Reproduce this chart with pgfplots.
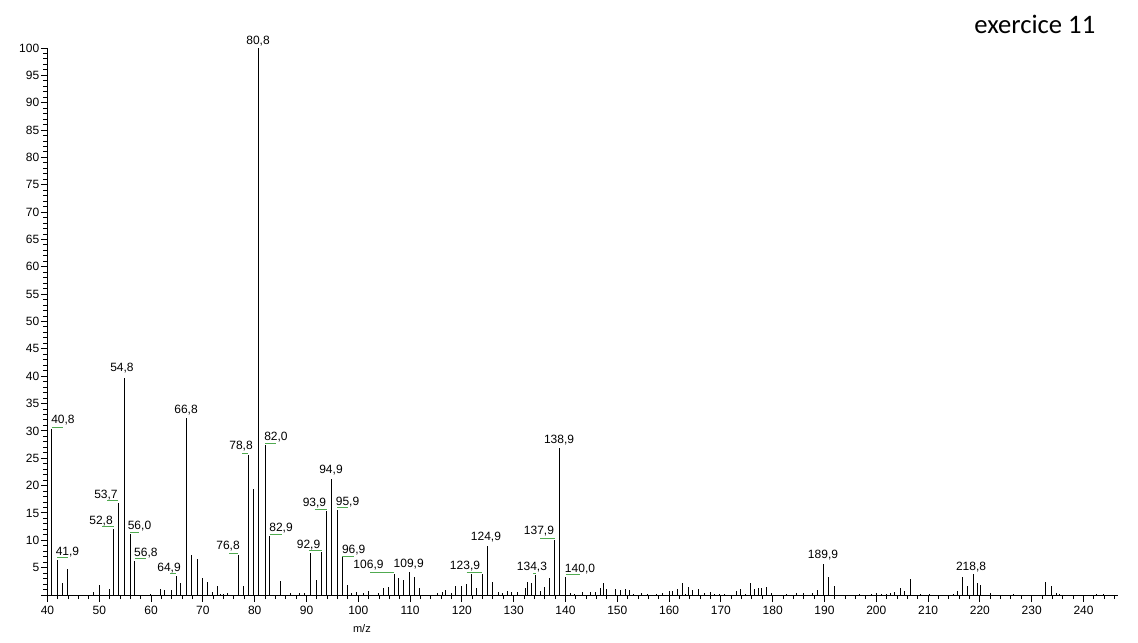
\documentclass[border=0pt]{standalone}
\usepackage{fontspec}
\setmainfont{Liberation Sans}
\newfontfamily\calibri{Carlito}
\usepackage{pgfplots}
\pgfplotsset{compat=1.18}
\definecolor{peakgreen}{RGB}{80,170,80}

\begin{document}
\begin{tikzpicture}
\begin{axis}[
  x=3.885pt, y=4.1025pt,
  xmin=40, xmax=246.6, ymin=0, ymax=100,
  axis lines*=left,
  axis line style={line width=0.75pt},
  tick align=outside,
  major tick length=5pt, minor tick length=3pt,
  tick style={black, line width=0.75pt},
  xtick={40,50,...,250}, minor x tick num=4,
  ytick={0,5,...,100}, minor y tick num=4,
  yticklabels={{},5,10,15,20,25,30,35,40,45,50,55,60,65,70,75,80,85,90,95,100},
  tick label style={font=\fontsize{9}{10}\selectfont},
  yticklabel style={inner sep=1pt},
  /pgf/number format/assume math mode=true,
  clip=false,
]
\addplot[ycomb, black, line width=0.75pt, mark=none] coordinates {
 (40.8,30.4) (41.9,6.4) (42.8,2.2) (43.9,4.7) (48.8,0.5) (50.0,1.8)
 (51.9,1.1) (52.8,12.0) (53.7,16.8) (54.8,39.6) (56.0,11.1) (56.8,6.3)
 (59.8,0.2) (61.8,1.1) (62.6,0.9) (64.0,0.9) (64.9,3.5) (65.6,2.25)
 (66.8,32.3) (67.8,7.3) (68.9,6.6) (69.9,3.1) (70.9,2.4) (71.9,0.55)
 (72.9,1.6) (73.4,0.2) (73.9,0.2) (74.8,0.4) (76.8,7.4) (77.8,1.6)
 (78.8,25.6) (79.8,19.3) (80.8,100) (82.0,27.4) (82.9,10.8) (85.0,2.55)
 (86.9,0.3) (88.6,0.3) (89.6,0.3) (90.8,7.7) (91.9,2.7) (92.9,7.8)
 (93.9,15.4) (94.9,21.3) (95.9,15.6) (96.9,6.9) (97.9,1.8) (98.7,0.4)
 (99.7,0.5) (101.0,0.3) (101.9,0.7) (103.9,0.3) (104.8,1.3) (105.8,1.5)
 (106.9,3.9) (107.8,3.2) (108.7,2.7) (109.9,4.2) (110.8,3.3) (111.9,1.3)
 (115.3,0.3) (116.2,0.5) (116.8,1.0) (118.0,0.4) (118.8,1.7) (119.9,1.7)
 (120.9,2.0) (121.9,3.9) (122.9,1.3) (123.9,3.9) (124.9,8.9) (125.9,2.4)
 (127.0,0.55) (127.9,0.4) (128.8,0.7) (129.6,0.55) (130.7,0.55) (132.2,1.3)
 (132.7,2.4) (133.4,2.25) (134.3,3.6) (135.1,0.7) (136.0,1.5) (136.9,3.1)
 (137.9,10.0) (138.9,26.8) (140.0,3.3) (141.0,0.4) (141.8,0.2) (143.2,0.55)
 (144.9,0.55) (145.8,0.55) (146.7,1.3) (147.3,2.25) (148.0,1.1) (149.7,1.1)
 (150.7,0.9) (151.6,1.1) (152.4,0.9) (153.1,0.2) (154.7,0.4) (155.8,0.2)
 (157.6,0.2) (158.7,0.4) (160.0,0.7) (160.6,0.7) (161.6,1.1) (162.5,2.25)
 (163.1,0.2) (163.7,1.5) (164.5,0.9) (165.6,1.1) (166.8,0.4) (168.0,0.55)
 (168.7,0.2) (169.7,0.2) (170.7,0.2) (173.1,0.7) (173.8,1.1) (174.7,0.2)
 (175.7,2.25) (176.5,1.1) (177.2,1.3) (177.8,1.3) (178.8,1.5) (179.7,0.4)
 (182.7,0.2) (184.6,0.4) (185.9,0.4) (187.7,0.4) (188.6,0.9) (189.9,5.65)
 (190.8,3.3) (192.0,1.65) (196.8,0.2) (199.0,0.2) (200.0,0.4) (201.0,0.2)
 (201.9,0.2) (202.7,0.4) (203.5,0.55) (204.7,1.3) (205.4,0.7) (206.6,2.9)
 (208.5,0.2) (210.3,0.2) (214.9,0.2) (215.7,0.7) (216.7,3.3) (217.7,1.65)
 (218.8,3.8) (219.45,2.2) (220.15,1.8) (222.1,0.4) (226.5,0.2) (232.6,2.4)
 (233.8,1.65) (234.7,0.4) (235.3,0.2) (242.5,0.2) (243.8,0.2)
};

% peak labels
\begin{scope}[every node/.style={font=\fontsize{9}{10}\selectfont, inner sep=0pt}]
\node at (axis cs:80.64,101.3) {80,8};
\node at (axis cs:54.38,41.4) {54,8};
\node at (axis cs:42.99,31.9) {40,8};
\node at (axis cs:66.74,33.76) {66,8};
\node at (axis cs:77.36,27.19) {78,8};
\node at (axis cs:84.11,28.83) {82,0};
\node at (axis cs:51.29,18.25) {53,7};
\node at (axis cs:50.33,13.5) {52,8};
\node at (axis cs:57.76,12.59) {56,0};
\node at (axis cs:59.0,7.66) {56,8};
\node at (axis cs:43.86,7.85) {41,9};
\node at (axis cs:63.46,4.93) {64,9};
\node at (axis cs:74.85,8.94) {76,8};
\node at (axis cs:85.08,12.23) {82,9};
\node at (axis cs:94.73,22.8) {94,9};
\node at (axis cs:91.54,16.79) {93,9};
\node at (axis cs:97.92,16.97) {95,9};
\node at (axis cs:90.39,9.12) {92,9};
\node at (axis cs:99.11,8.21) {96,9};
\node at (axis cs:101.97,5.47) {106,9};
\node at (axis cs:109.73,5.66) {109,9};
\node at (axis cs:120.6,5.29) {123,9};
\node at (axis cs:124.65,10.58) {124,9};
\node at (axis cs:133.53,5.11) {134,3};
\node at (axis cs:134.88,11.68) {137,9};
\node at (axis cs:138.75,28.28) {138,9};
\node at (axis cs:142.8,4.74) {140,0};
\node at (axis cs:189.71,7.3) {189,9};
\node at (axis cs:218.29,5.11) {218,8};
\end{scope}

% green leader lines under the labels
\begin{scope}[peakgreen, line width=0.75pt]
\draw (axis cs:40.81,30.66) -- (axis cs:43.05,30.66);
\draw (axis cs:77.55,25.9) -- (axis cs:78.71,25.9);
\draw (axis cs:82.0,27.74) -- (axis cs:84.1,27.74);
\draw (axis cs:51.49,17.2) -- (axis cs:53.7,17.2);
\draw (axis cs:50.52,12.46) -- (axis cs:52.8,12.46);
\draw (axis cs:56.0,11.5) -- (axis cs:57.7,11.5);
\draw (axis cs:56.8,6.75) -- (axis cs:59.0,6.75);
\draw (axis cs:41.9,6.8) -- (axis cs:43.96,6.8);
\draw (axis cs:63.65,3.89) -- (axis cs:64.9,3.89);
\draw (axis cs:75.04,7.66) -- (axis cs:76.8,7.66);
\draw (axis cs:82.9,11.13) -- (axis cs:85.27,11.13);
\draw (axis cs:91.64,15.69) -- (axis cs:93.9,15.69);
\draw (axis cs:95.9,15.93) -- (axis cs:98.01,15.93);
\draw (axis cs:90.48,8.21) -- (axis cs:92.9,8.21);
\draw (axis cs:96.9,7.12) -- (axis cs:99.17,7.12);
\draw (axis cs:102.26,4.2) -- (axis cs:106.9,4.2);
\draw (axis cs:120.93,4.2) -- (axis cs:123.9,4.2);
\draw (axis cs:133.78,4.01) -- (axis cs:134.3,4.01);
\draw (axis cs:135.08,10.4) -- (axis cs:137.9,10.4);
\draw (axis cs:140.0,3.7) -- (axis cs:142.8,3.7);
\end{scope}

\node[font=\fontsize{8.25}{9}\selectfont] at (axis cs:100.7,-6.2) {m/z};
\node[font=\calibri\fontsize{20}{22}\selectfont] at (axis cs:230.6,104.3) {exercice 11};

\coordinate (bl) at (axis cs:30.83,-8.59);
\coordinate (tr) at (axis cs:250.52,108.78);
\end{axis}
\path[use as bounding box] (bl) rectangle (tr);
\end{tikzpicture}
\end{document}
